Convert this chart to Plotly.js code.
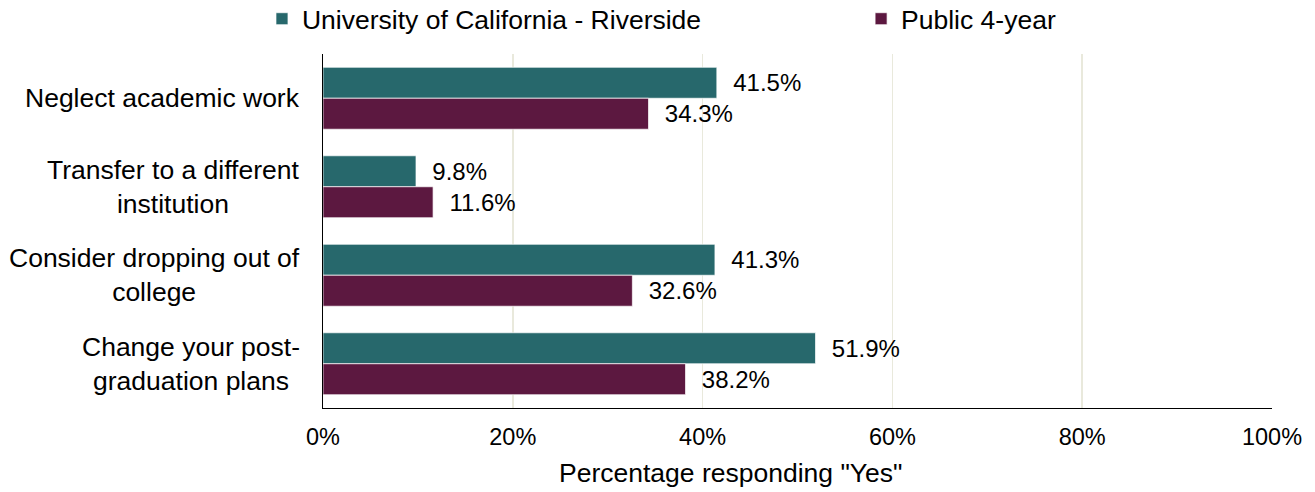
<!DOCTYPE html>
<html>
<head>
<meta charset="utf-8">
<script src="https://cdn.plot.ly/plotly-3.0.1.min.js"></script>
<style>html,body{margin:0;padding:0;background:#fff}#chart{width:1315px;height:492px}</style>
</head>
<body>
<div id="chart"></div>
<script>
var categories = ["Neglect academic work", "Transfer to a different institution", "Consider dropping out of college", "Change your post-graduation plans"];
var categoryLabels = ["Neglect academic work", "Transfer to a different<br>institution", "Consider dropping out of<br>college", "Change your post-<br>graduation plans"];
var seriesNames = ["University of California - Riverside", "Public 4-year"];
var ucrValues = [41.5, 9.8, 41.3, 51.9];
var public4Values = [34.3, 11.6, 32.6, 38.2];
var xTicks = [0, 20, 40, 60, 80, 100];
var xTickLabels = ["0%", "20%", "40%", "60%", "80%", "100%"];
var xTitle = "Percentage responding \"Yes\"";

var FONT = "Liberation Sans, Arial, sans-serif";
var colors = ["#27686c", "#5c1840"];

function mk(name, vals, color, legendId) {
  return {
    type: "bar", orientation: "h", name: name, legend: legendId,
    y: categories, x: vals,
    marker: {color: color, line: {color: "rgba(255,255,255,0.7)", width: 1}},
    text: vals.map(function(v){ return "\u00a0\u00a0" + v.toFixed(1) + "%"; }),
    textposition: "outside", cliponaxis: false,
    textfont: {family: FONT, size: 24, color: "#000"},
    hoverinfo: "x+name"
  };
}

var data = [mk(seriesNames[0], ucrValues, colors[0], "legend"), mk(seriesNames[1], public4Values, colors[1], "legend2")];

var annotations = categories.map(function(c, i){
  return {xref: "paper", yref: "y", x: -0.0221, y: c, text: categoryLabels[i],
    xanchor: "right", yanchor: "middle", align: "center", showarrow: false,
    font: {family: FONT, size: 26.5, color: "#000"}};
});
annotations.push({xref: "paper", yref: "paper", x: 0.4289, y: -0.1836, text: xTitle,
  xanchor: "center", yanchor: "middle", showarrow: false,
  font: {family: FONT, size: 26.5, color: "#000"}});

var legendFont = {family: FONT, size: 26.5, color: "#000"};
var layout = {
  width: 1315, height: 492,
  margin: {l: 323, r: 43, t: 54, b: 84, autoexpand: false},
  paper_bgcolor: "#fff", plot_bgcolor: "#fff",
  font: {family: FONT, size: 24, color: "#000"},
  barmode: "group", bargap: 0.3, bargroupgap: 0,
  showlegend: true,
  legend: {orientation: "h", x: -0.0643, xanchor: "left", yref: "container", y: 0.9614, yanchor: "middle",
    font: legendFont, bgcolor: "rgba(0,0,0,0)"},
  legend2: {orientation: "h", x: 0.567, xanchor: "left", yref: "container", y: 0.9614, yanchor: "middle",
    font: legendFont, bgcolor: "rgba(0,0,0,0)"},
  xaxis: {range: [0, 100], tickvals: xTicks, ticktext: xTickLabels,
    showgrid: true, gridcolor: "#e9e9dc", gridwidth: 1.5,
    zeroline: false, showline: true, linecolor: "#000", linewidth: 1,
    ticks: "", ticklabelstandoff: 8,
    tickfont: {family: FONT, size: 23.5, color: "#000"},
    fixedrange: true},
  yaxis: {categoryorder: "array", categoryarray: categories, autorange: "reversed",
    showticklabels: false, showgrid: false, zeroline: false,
    showline: true, linecolor: "#000", linewidth: 1, ticks: "", fixedrange: true},
  annotations: annotations
};

Plotly.newPlot("chart", data, layout, {displayModeBar: false, staticPlot: true});
</script>
</body>
</html>
